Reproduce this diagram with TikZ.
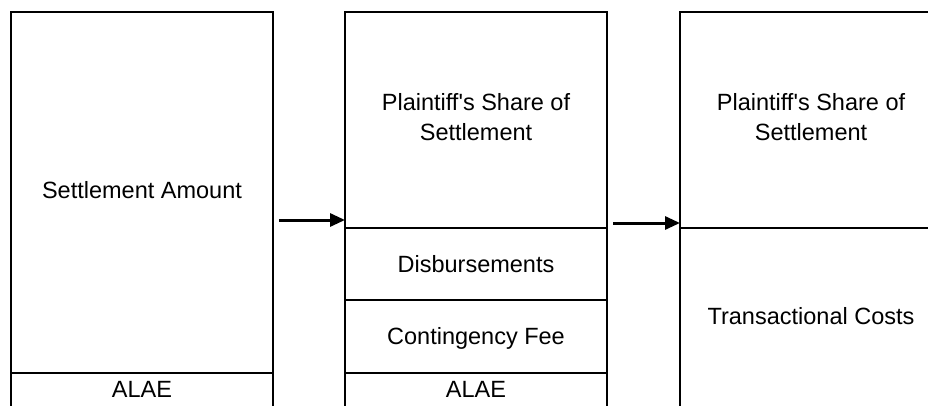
\documentclass[tikz,border=0pt]{standalone}
\usepackage{fontspec}
\setmainfont{Liberation Sans}
\usetikzlibrary{arrows.meta}
\begin{document}
\begin{tikzpicture}[x=1pt,y=-1pt,
  colbox/.style={draw=black,line width=2.2pt,minimum width=262pt,minimum height=420pt,inner sep=0pt,outer sep=0pt,anchor=north west},
  divider/.style={draw=black,line width=2.2pt},
  lbl/.style={font=\fontsize{23.5}{30}\selectfont,inner sep=0pt,align=center},
  arr/.style={draw=black,line width=3pt,-{Triangle[length=15pt,width=13pt]}}]
\useasboundingbox (0,0) rectangle (928,406);
\clip (0,0) rectangle (928,406);
\fill[white] (0,0) rectangle (928,406);
% boxes
\node[colbox] (b1) at (11,12) {};
\node[colbox] (b2) at (345,12) {};
\node[colbox] (b3) at (680,12) {};
% dividers
\draw[divider] (b1.west |- 0,373) -- (b1.east |- 0,373);
\draw[divider] (b2.west |- 0,228) -- (b2.east |- 0,228);
\draw[divider] (b2.west |- 0,300) -- (b2.east |- 0,300);
\draw[divider] (b2.west |- 0,373) -- (b2.east |- 0,373);
\draw[divider] (b3.west |- 0,228) -- (b3.east |- 0,228);
% labels
\node[lbl,anchor=base] (t1) at (142,198) {Settlement Amount};
\node[lbl,anchor=base] (t1a) at (142,397) {ALAE};
\node[lbl,anchor=center] (t2) at (476,116.7) {Plaintiff\textquotesingle s Share of\\Settlement};
\node[lbl,anchor=base] (t2d) at (476,272) {Disbursements};
\node[lbl,anchor=base] (t2c) at (476,344.5) {Contingency Fee};
\node[lbl,anchor=base] (t2a) at (476,397) {ALAE};
\node[lbl,anchor=center] (t3) at (811,116.7) {Plaintiff\textquotesingle s Share of\\Settlement};
\node[lbl,anchor=base] (t3t) at (811,324) {Transactional Costs};
% arrows
\coordinate (a1) at (279,220);
\coordinate (a2) at (613,223);
\draw[arr] (a1) -- (b2.west |- a1);
\draw[arr] (a2) -- (b3.west |- a2);
\end{tikzpicture}
\end{document}
